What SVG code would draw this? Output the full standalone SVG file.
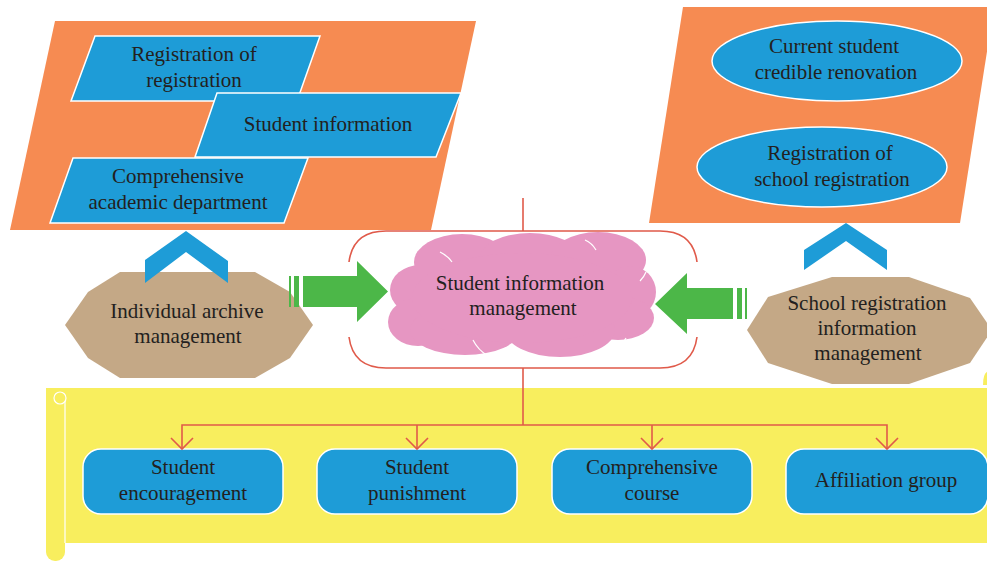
<svg xmlns="http://www.w3.org/2000/svg" width="987" height="561" viewBox="0 0 987 561">
<style>
.t{font-family:"Liberation Serif","Times New Roman",serif;font-size:21px;fill:#231F20;text-anchor:middle}
.org{fill:#F68B52}
.blu{fill:#1E9CD7;stroke:#FFFFFF;stroke-width:1.5}
.tan{fill:#C4A886}
.grn{fill:#4CB748}
.red{fill:none;stroke:#E05A4A;stroke-width:1.6}
.yel{fill:#F8EE5E}
.chev{fill:#1E9CD7}
</style>
<rect width="987" height="561" fill="#FFFFFF"/>

<g id="left-panel">
<polygon class="org" points="55,21 476,21 431,230 10,230"/>
<g id="reg-of-reg"><polygon class="blu" points="95,36 320,36 297,101 71,101"/>
<text class="t" x="194" y="61">Registration of</text><text class="t" x="194" y="87">registration</text></g>
<g id="student-info"><polygon class="blu" points="217,93 461,93 436,157 195,157"/>
<text class="t" x="328" y="131">Student information</text></g>
<g id="comp-academic"><polygon class="blu" points="73,158 308,158 284,223 50,223"/>
<text class="t" x="178" y="183">Comprehensive</text><text class="t" x="178" y="209">academic department</text></g>
</g>

<g id="right-panel">
<polygon class="org" points="683,7 994,7 960,223 649,223"/>
<g id="current-student"><ellipse class="blu" cx="837" cy="61" rx="125" ry="40"/>
<text class="t" x="834" y="53">Current student</text><text class="t" x="836" y="79">credible renovation</text></g>
<g id="school-reg"><ellipse class="blu" cx="822" cy="167" rx="125" ry="40"/>
<text class="t" x="830" y="160">Registration of</text><text class="t" x="832" y="186">school registration</text></g>
</g>

<g id="center">
<path class="red" d="M349,262 Q353,231 386,231 L660,231 Q693,231 697,262"/>
<path class="red" d="M349,337 Q353,368 386,368 L660,368 Q693,368 697,337"/>
<g fill="#E696C2">
<ellipse cx="420" cy="290" rx="30" ry="25"/>
<ellipse cx="418" cy="322" rx="30" ry="24"/>
<ellipse cx="462" cy="262" rx="48" ry="28"/>
<ellipse cx="530" cy="258" rx="50" ry="25"/>
<ellipse cx="598" cy="260" rx="48" ry="28"/>
<ellipse cx="630" cy="292" rx="26" ry="26"/>
<ellipse cx="618" cy="318" rx="36" ry="22"/>
<ellipse cx="560" cy="330" rx="55" ry="27"/>
<ellipse cx="465" cy="330" rx="55" ry="25"/>
<ellipse cx="522" cy="298" rx="110" ry="45"/>
</g>
<g fill="none" stroke="#FFFFFF" stroke-width="1.2">
<path d="M440,252 Q448,256 452,262"/>
<path d="M585,240 Q592,243 596,250"/>
<path d="M612,350 Q622,346 626,338"/>
<path d="M473,340 Q478,350 488,356"/>
<path d="M640,281 Q644,277 646,272"/>
</g>
<text class="t" x="520" y="290">Student information</text>
<text class="t" x="523" y="315">management</text>
</g>

<g id="individual-archive">
<polygon class="tan" points="65,325 88,292 120,272 255,272 290,292 313,325 290,358 255,378 120,378 88,358"/>
<text class="t" x="187" y="318">Individual archive</text>
<text class="t" x="188" y="343">management</text>
</g>

<g id="school-reg-info">
<polygon class="tan" points="747,330 768,297 832,277 909,277 970,298 992,330 970,363 909,384 832,384 768,363"/>
<text class="t" x="867" y="310">School registration</text>
<text class="t" x="867" y="335">information</text>
<text class="t" x="868" y="360">management</text>
</g>

<g id="banner">
<rect class="yel" x="46" y="388" width="945" height="155"/>
<rect class="yel" x="46" y="388" width="19" height="173" rx="9"/>
<line x1="65" y1="400" x2="65" y2="543" stroke="#FFFFFF" stroke-width="1.2"/>
<circle cx="60" cy="398" r="6" fill="#F8EE5E" stroke="#FFFFFF" stroke-width="1.2"/>
<path d="M983,385 Q983,371 990,371 L990,385 Z" fill="#F8EE5E"/>
</g>

<g id="encouragement"><rect class="blu" x="83" y="449" width="200" height="65" rx="18"/>
<text class="t" x="183" y="474">Student</text><text class="t" x="183" y="500">encouragement</text></g>
<g id="punishment"><rect class="blu" x="317" y="449" width="200" height="65" rx="18"/>
<text class="t" x="417" y="474">Student</text><text class="t" x="417" y="500">punishment</text></g>
<g id="comp-course"><rect class="blu" x="552" y="449" width="200" height="65" rx="18"/>
<text class="t" x="652" y="474">Comprehensive</text><text class="t" x="652" y="500">course</text></g>
<g id="affiliation"><rect class="blu" x="786" y="449" width="202" height="65" rx="18"/>
<text class="t" x="886" y="487">Affiliation group</text></g>

<g id="connectors">
<polygon class="chev" points="145,260 186,231 228,261 228,283 186,252 145,283"/>
<polygon class="chev" points="804,250 846,223 887,250 887,270 846,241 804,270"/>
<line class="red" x1="523" y1="198" x2="523" y2="231"/>
<line class="red" x1="523" y1="368" x2="523" y2="425"/>
<polyline class="red" points="182,449 182,425 887,425 887,449"/>
<line class="red" x1="417" y1="425" x2="417" y2="449"/>
<line class="red" x1="652" y1="425" x2="652" y2="449"/>
<polyline class="red" points="171,438 182,449 193,438"/>
<polyline class="red" points="406,438 417,449 428,438"/>
<polyline class="red" points="641,438 652,449 663,438"/>
<polyline class="red" points="876,438 887,449 898,438"/>
<rect class="grn" x="289" y="276" width="2" height="31"/>
<rect class="grn" x="294" y="276" width="5" height="31"/>
<polygon class="grn" points="303,276 357,276 357,261 388,291.5 357,322 357,307 303,307"/>
<rect class="grn" x="745" y="288" width="2" height="31"/>
<rect class="grn" x="737" y="288" width="5" height="31"/>
<polygon class="grn" points="733,288 687,288 687,273 655,304 687,334 687,319 733,319"/>
</g>
</svg>
